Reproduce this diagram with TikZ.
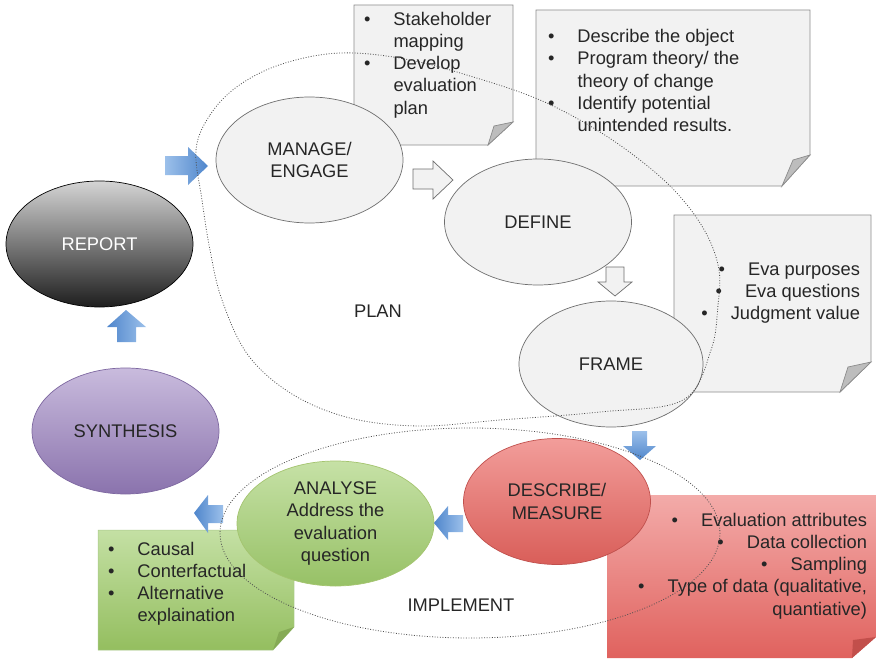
\documentclass[tikz,border=0pt]{standalone}
\usepackage{fontspec}
\setmainfont{Liberation Sans}
\usetikzlibrary{shapes.geometric}

\definecolor{ink}{HTML}{262626}
\definecolor{paper}{HTML}{F2F2F2}
\definecolor{stageline}{HTML}{6E6E6E}
\definecolor{noteline}{HTML}{8C8C8C}
\definecolor{foldgray}{HTML}{BDBDBD}
\definecolor{dotline}{HTML}{505050}
\definecolor{repTop}{HTML}{D4D4D4}
\definecolor{repBot}{HTML}{1E1E1E}
\definecolor{synTop}{HTML}{C9BBDD}
\definecolor{synBot}{HTML}{8A73AD}
\definecolor{synLine}{HTML}{7D67A0}
\definecolor{descTop}{HTML}{F29D9A}
\definecolor{descBot}{HTML}{D95E59}
\definecolor{descLine}{HTML}{C0504D}
\definecolor{anaTop}{HTML}{C6E1A6}
\definecolor{anaBot}{HTML}{97C166}
\definecolor{anaLine}{HTML}{A4C46F}
\definecolor{redTop}{HTML}{F3ABA9}
\definecolor{redBot}{HTML}{E0625E}
\definecolor{redFold}{HTML}{C24F4B}
\definecolor{greenTop}{HTML}{C4E0A4}
\definecolor{greenBot}{HTML}{94BE5F}
\definecolor{greenFold}{HTML}{85AA55}
\definecolor{greenEdge}{HTML}{A9C98B}
\definecolor{blueDark}{HTML}{4F86CC}
\definecolor{blueLight}{HTML}{9CC0EA}

\newcommand\diagfont{\fontsize{18.3}{22.3}\selectfont}
\newcommand\listbul{\makebox[29.5pt][l]{\textbullet}}
\newcommand\listind{\hspace*{29.5pt}}
\newcommand\firstline{\rule{0pt}{14pt}}

\begin{document}
\begin{tikzpicture}[x=1pt,y=-1pt,
  every node/.style={inner sep=0pt, outer sep=0pt, text=ink, font=\diagfont},
  stage/.style={ellipse, minimum width=187, minimum height=126, align=center, line width=0.7pt},
  plainstage/.style={stage, draw=stageline, fill=paper},
  note/.style={fill=paper, draw=noteline, line width=0.7pt},
  fold/.style={fill=foldgray, draw=noteline, line width=0.7pt},
  whitearrow/.style={fill=paper, draw=stageline, line width=0.7pt},
  outline/.style={draw=dotline, line width=0.8pt, dash pattern=on 0.9pt off 1.7pt}
]
\useasboundingbox (0,0) rectangle (876,661);

% ---- note sheets with folded corners ----
\path[note] (354,5) -- (513,5) -- (513,122) -- (488,145) -- (354,145) -- cycle;
\path[fold] (513,122) -- (488,145) -- (494,126) -- cycle;
\node[anchor=north west, align=left] (notemanage) at (364,11)
  {\firstline\listbul Stakeholder\\\listind mapping\\\listbul Develop\\\listind evaluation\\\listind plan};

\path[note] (536,10) -- (810,10) -- (810,155) -- (782,186) -- (536,186) -- cycle;
\path[fold] (810,155) -- (782,186) -- (793,160) -- cycle;
\node[anchor=north west, align=left] (notedefine) at (548,28.5)
  {\firstline\listbul Describe the object\\\listbul Program theory/ the\\\listind theory of change\\\listbul Identify potential\\\listind unintended results.};

\path[note] (674,215) -- (871,215) -- (871,362) -- (840,392) -- (674,392) -- cycle;
\path[fold] (871,362) -- (840,392) -- (848,367) -- cycle;
\node[anchor=north east, align=right] (noteframe) at (860,261)
  {\firstline\listbul Eva purposes\\\listbul Eva questions\\\listbul Judgment value};

\shade[top color=redTop, bottom color=redBot] (607,495) -- (876,495) -- (876,637) -- (852,658) -- (607,658) -- cycle;
\fill[redFold] (876,637) -- (852,658) -- (853,640) -- cycle;
\node[anchor=north east, align=right] (notedescribe) at (867,512)
  {\firstline\listbul Evaluation attributes\\\listbul Data collection\\\listbul Sampling\\\listbul Type of data (qualitative,\\quantiative)};

\shade[top color=greenTop, bottom color=greenBot, draw=greenEdge, line width=0.5pt] (98,530) -- (294,530) -- (294,627) -- (273,650) -- (98,650) -- cycle;
\fill[greenFold] (294,627) -- (273,650) -- (279,632) -- cycle;
\node[anchor=north west, align=left] (noteanalyse) at (108,541)
  {\firstline\listbul Causal\\\listbul Conterfactual\\\listbul Alternative\\\listind explaination};

% ---- stages ----
\node[plainstage] (manage) at (309.5,160) {MANAGE/\\ENGAGE};
\node[plainstage] (define) at (538,222) {DEFINE};
\node[plainstage, minimum width=184] (frame) at (611,364) {FRAME};
\node[stage, draw=black, top color=repTop, bottom color=repBot, text=white] (report) at (99.5,244) {REPORT};
\node[stage, draw=synLine, top color=synTop, bottom color=synBot] (synth) at (125.5,431) {SYNTHESIS};
\node[stage, draw=descLine, top color=descTop, bottom color=descBot] (describe) at (557,501.5) {DESCRIBE/\\MEASURE};
\node[stage, minimum width=197, minimum height=125, draw=anaLine, top color=anaTop, bottom color=anaBot] (analyse) at (335.5,523.5)
  {ANALYSE\\Address the\\evaluation\\question};

% ---- block arrows ----
\shade[left color=blueLight, right color=blueDark] (165,156) -- (188,156) -- (188,147) -- (208,166) -- (188,185) -- (188,175) -- (165,175) -- cycle;
\path[whitearrow] (413,169) -- (433,169) -- (433,161) -- (453,180) -- (433,199) -- (433,189) -- (413,189) -- cycle;
\path[whitearrow] (606,267) -- (624,267) -- (624,282) -- (632,282) -- (615,296) -- (598,282) -- (606,282) -- cycle;
\shade[top color=blueLight, bottom color=blueDark] (632,431) -- (647,431) -- (647,446) -- (656,446) -- (640,460) -- (623,446) -- (632,446) -- cycle;
\shade[left color=blueDark, right color=blueLight] (463,515) -- (448,515) -- (448,506) -- (434,523) -- (448,540) -- (448,532) -- (463,532) -- cycle;
\shade[left color=blueDark, right color=blueLight] (223,505) -- (208,505) -- (208,495) -- (194,513) -- (208,533) -- (208,523) -- (223,523) -- cycle;
\shade[left color=blueDark, right color=blueLight] (117,342) -- (117,327) -- (107,327) -- (126,310) -- (146,327) -- (136,327) -- (136,342) -- cycle;

% ---- phase labels and outlines ----
\node (plan) at (378,311) {PLAN};
\node (implement) at (461,605) {IMPLEMENT};

\draw[outline] plot[smooth cycle, tension=0.6] coordinates {
  (196,150) (210,115) (238,86) (282,64) (340,53) (405,59) (470,76) (540,100)
  (600,132) (650,168) (683,200) (707,235) (719,270) (718,305) (711,350)
  (683,400) (600,412) (500,420) (420,426) (350,418) (292,394) (248,355)
  (222,300) (210,250) (202,200)};
\draw[outline] (470,533) ellipse [x radius=250, y radius=105];
\end{tikzpicture}
\end{document}
